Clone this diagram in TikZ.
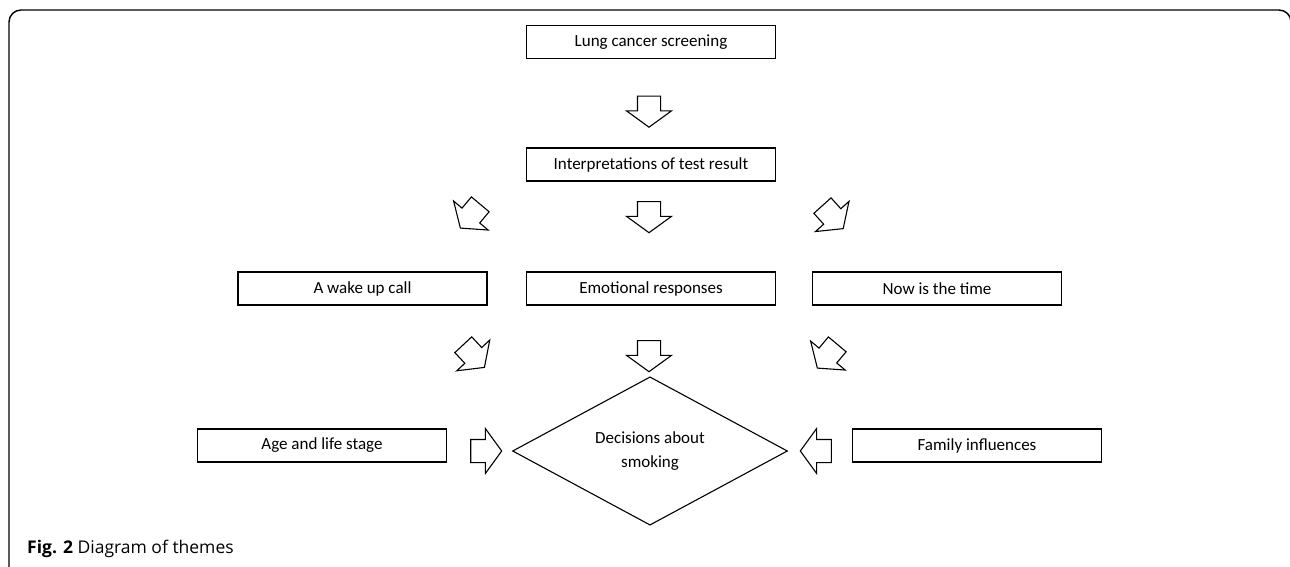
\documentclass[tikz,border=0pt]{standalone}
\usepackage{fontspec}
\setmainfont{Carlito}
\newfontfamily\captfont{Open Sans}
\usepackage{tikz}
\usetikzlibrary{shapes.geometric, shapes.arrows, positioning}

\begin{document}
\begin{tikzpicture}[x=1pt, y=-1pt,
            box/.style={draw, rectangle, line width=1.1pt, minimum width=249pt, minimum height=33pt, inner sep=0pt, font=\fontsize{17}{20}\selectfont},
            decide/.style={draw, diamond, line width=1.1pt, minimum width=275pt, minimum height=148pt, inner sep=0pt, align=center, font=\fontsize{17}{24}\selectfont},
            blockarrow/.style={draw, single arrow, line width=1.1pt, minimum height=31pt, minimum width=44pt, inner xsep=0pt, inner ysep=11pt, single arrow head extend=11pt, single arrow tip angle=108}]

            \useasboundingbox (0,0) rectangle (1290,567);
            \draw[line width=1.4pt, rounded corners=12pt] (9,620) -- (9,10) -- (1291,10) -- (1291,620);

            % boxes
            \node[box] (screen) at (651,42) {Lung cancer screening};
            \node[box] (interp) at (651,164.5) {Interpretations of test result};
            \node[box] (wake) at (362.5,288.5) {A wake up call};
            \node[box] (emot) at (651,288.5) {Emotional responses};
            \node[box] (now) at (937,288.5) {Now is the time};
            \node[box] (age) at (322,445.5) {Age and life stage};
            \node[box] (family) at (977,445.5) {Family influences};
            \node[decide] (smoke) at (650,451) {Decisions about\\smoking};

            % block arrows
            \node[blockarrow, rotate=-90] (a1) at (649,107.5) {};
            \node[blockarrow, rotate=-130] (a2) at (473,213) {};
            \node[blockarrow, rotate=-90] (a3) at (649,213) {};
            \node[blockarrow, rotate=-48] (a4) at (830,214) {};
            \node[blockarrow, rotate=-47] (a5) at (471,353) {};
            \node[blockarrow, rotate=-90] (a6) at (649,352) {};
            \node[blockarrow, rotate=-130] (a7) at (830,353) {};
            \node[blockarrow] (a8) at (482,451) {};
            \node[blockarrow, rotate=180] (a9) at (820,451) {};

            \node[anchor=base west, inner sep=0pt, font=\captfont\fontsize{17.5}{20}\selectfont] (capt) at (27,553) {\textbf{Fig. 2} Diagram of themes};
        \end{tikzpicture}
\end{document}
